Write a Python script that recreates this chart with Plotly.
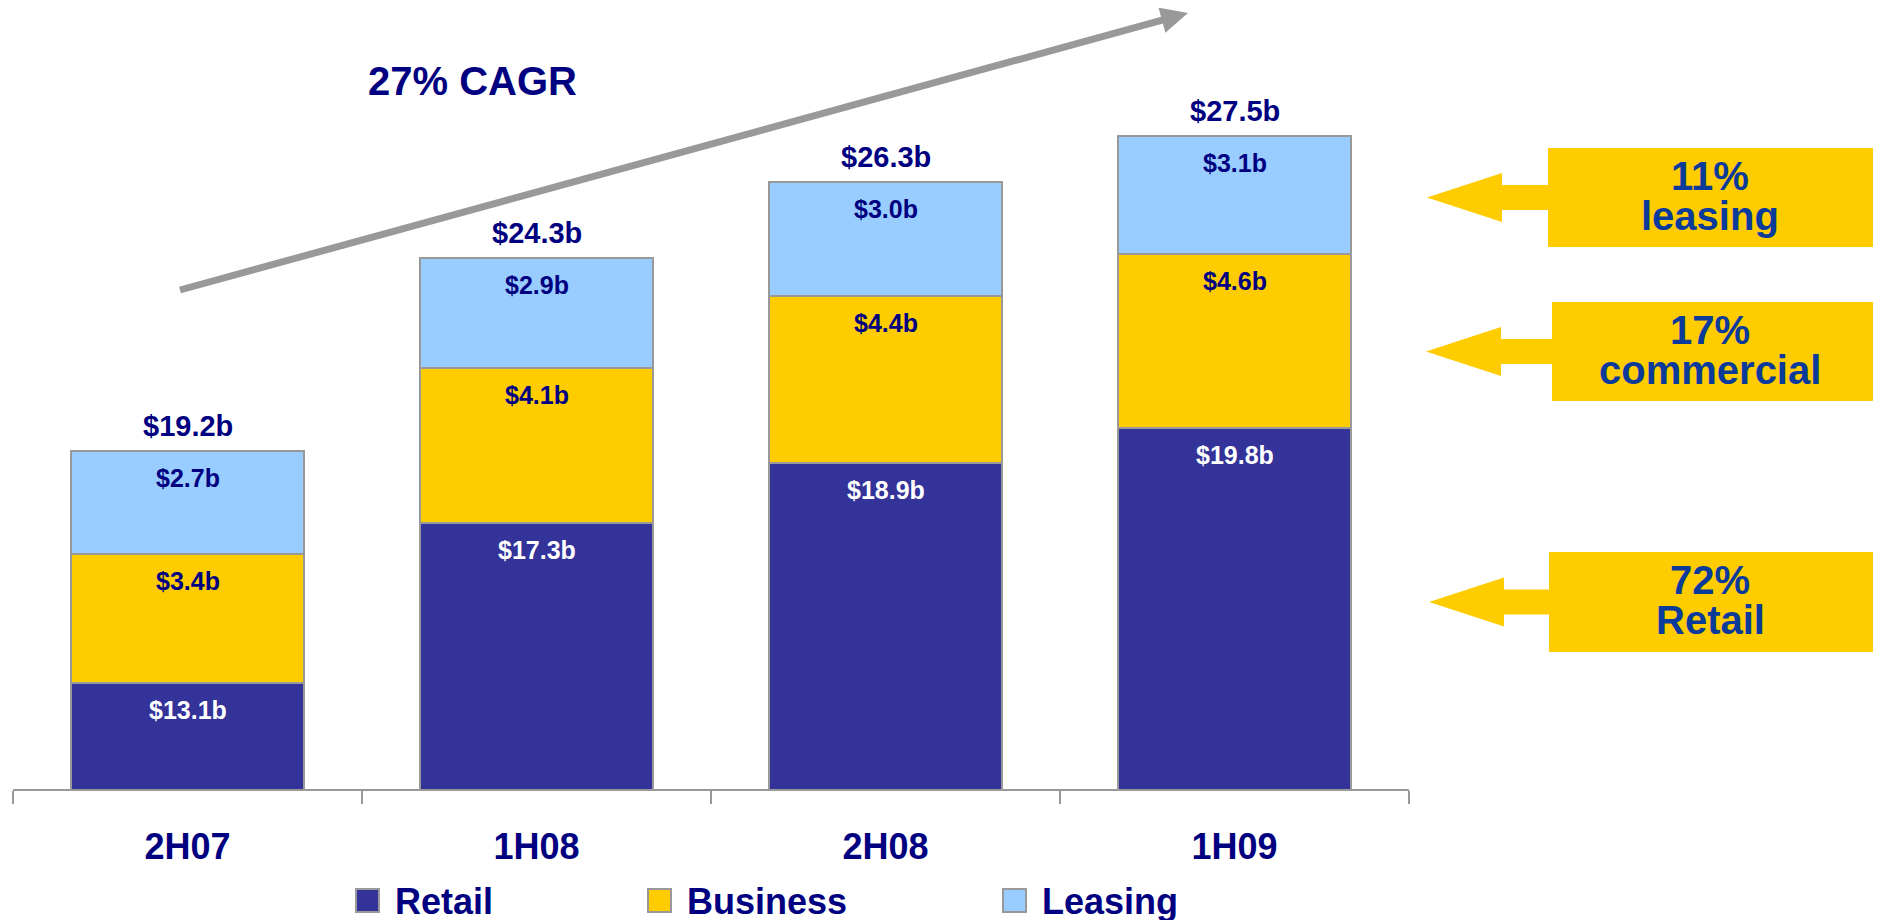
import math
import plotly.graph_objects as go

# ---------------- data ----------------
periods = ["2H07", "1H08", "2H08", "1H09"]
retail = [13.1, 17.3, 18.9, 19.8]
business = [3.4, 4.1, 4.4, 4.6]
leasing = [2.7, 2.9, 3.0, 3.1]
totals = [19.2, 24.3, 26.3, 27.5]
series_names = ["Retail", "Business", "Leasing"]
series_colors = ["#333399", "#FFCC00", "#99CCFF"]
label_colors = ["#FFFFFF", "#000080", "#000080"]
callout_pct = ["11%", "17%", "72%"]
callout_name = ["leasing", "commercial", "Retail"]
cagr_text = "27% CAGR"

NAVY = "#000080"
BLUE = "#0A3A9A"
YELLOW = "#FFCC00"
GRAY = "#999999"
FONT = "Arial, 'Liberation Sans', sans-serif"

OFF = 8  # page body margin
W, H = 1881 - OFF, 920 - OFF
ML, MR, MT, MB = 13 - OFF, 472, 0, 131
PW = W - ML - MR
PH = H - MT - MB
YMIN = 10.3
PX_PER_UNIT = 37.95
YMAX = YMIN + PH / PX_PER_UNIT


def px(x):
    return (x - OFF - ML) / PW


def py(y):
    return (H - MB - (y - OFF)) / PH


fig = go.Figure()
all_series = [retail, business, leasing]
for name, vals, col in zip(series_names, all_series, series_colors):
    fig.add_trace(go.Bar(
        x=periods, y=vals, name=name,
        marker=dict(color=col, line=dict(color=GRAY, width=2)),
        width=0.667, showlegend=False, hoverinfo="x+y+name",
    ))

annotations = []
# segment labels
cum = [0.0] * len(periods)
for vals, lc in zip(all_series, label_colors):
    for i, v in enumerate(vals):
        cum[i] += v
        annotations.append(dict(
            x=periods[i], y=cum[i], xref="x", yref="y", text=f"${v:.1f}b",
            showarrow=False, yshift=-27, yanchor="middle", xanchor="center",
            font=dict(family=FONT, size=25, color=lc, weight="bold"),
        ))
# total labels
for i, t in enumerate(totals):
    annotations.append(dict(
        x=periods[i], y=t, xref="x", yref="y", text=f"${t:.1f}b",
        showarrow=False, yshift=25, yanchor="middle", xanchor="center",
        font=dict(family=FONT, size=29, color=NAVY, weight="bold"),
    ))

# CAGR label
annotations.append(dict(
    x=px(472), y=py(81), xref="paper", yref="paper", text=cagr_text,
    showarrow=False, xanchor="center", yanchor="middle",
    font=dict(family=FONT, size=40, color=NAVY, weight="bold"),
))

shapes = []
# CAGR arrow
x0, y0 = 180, 290
tx, ty = 1188, 13
dx, dy = tx - x0, ty - y0
L = math.hypot(dx, dy)
ux, uy = dx / L, dy / L
nx, ny = -uy, ux
HL, HW = 27, 13
bx, by = tx - HL * ux, ty - HL * uy
shapes.append(dict(type="line", xref="paper", yref="paper",
                   x0=px(x0), y0=py(y0), x1=px(bx + 2 * ux), y1=py(by + 2 * uy),
                   line=dict(color=GRAY, width=7)))
c1 = (bx + HW * nx, by + HW * ny)
c2 = (bx - HW * nx, by - HW * ny)
shapes.append(dict(type="path", xref="paper", yref="paper",
                   path=f"M {px(tx)} {py(ty)} L {px(c1[0])} {py(c1[1])} L {px(c2[0])} {py(c2[1])} Z",
                   fillcolor=GRAY, line=dict(width=0)))

# callouts on the right
boxes = [(1548, 148, 1881, 247), (1552, 302, 1881, 401), (1549, 552, 1881, 652)]
tips = [1427, 1426, 1429]
for (bx0, by0, bx1, by1), tipx, pct, nm in zip(boxes, tips, callout_pct, callout_name):
    cy = (by0 + by1) / 2
    hb = tipx + 75
    pts = [(tipx, cy), (hb, cy - 24.5), (hb, cy - 12.5), (bx0 + 1, cy - 12.5),
           (bx0 + 1, cy + 12.5), (hb, cy + 12.5), (hb, cy + 24.5)]
    path = "M " + " L ".join(f"{px(a)} {py(b)}" for a, b in pts) + " Z"
    shapes.append(dict(type="path", xref="paper", yref="paper", path=path,
                       fillcolor=YELLOW, line=dict(width=0)))
    shapes.append(dict(type="rect", xref="paper", yref="paper",
                       x0=px(bx0), x1=px(bx1), y0=py(by0), y1=py(by1),
                       fillcolor=YELLOW, line=dict(width=0)))
    tcx = 1710
    annotations.append(dict(x=px(tcx), y=py(by0 + 28), xref="paper", yref="paper",
                            text=pct, showarrow=False, xanchor="center", yanchor="middle",
                            font=dict(family=FONT, size=40, color=BLUE, weight="bold")))
    annotations.append(dict(x=px(tcx), y=py(by0 + 68), xref="paper", yref="paper",
                            text=nm, showarrow=False, xanchor="center", yanchor="middle",
                            font=dict(family=FONT, size=40, color=BLUE, weight="bold")))

# manual legend
leg_sq_x = [356, 648, 1003]
for sx, name, col in zip(leg_sq_x, series_names, series_colors):
    shapes.append(dict(type="rect", xref="paper", yref="paper",
                       x0=px(sx), x1=px(sx + 23), y0=py(889), y1=py(912),
                       fillcolor=col, line=dict(color=GRAY, width=2)))
    annotations.append(dict(x=px(sx + 37), y=py(901), xref="paper", yref="paper",
                            text=name, showarrow=False, xanchor="left", yanchor="middle",
                            font=dict(family=FONT, size=36, color=NAVY, weight="bold")))

fig.update_layout(
    width=W, height=H, barmode="stack", bargap=0.333,
    margin=dict(l=ML, r=MR, t=MT, b=MB, pad=0),
    paper_bgcolor="white", plot_bgcolor="white",
    annotations=annotations, shapes=shapes, showlegend=False,
    xaxis=dict(
        type="category", range=[-0.5, 3.5], showline=True, linecolor=GRAY, linewidth=2,
        ticks="outside", tickson="boundaries", ticklen=13, tickcolor=GRAY, tickwidth=2,
        tickfont=dict(family=FONT, size=36, color=NAVY, weight="bold"),
        ticklabelstandoff=25, showgrid=False, zeroline=False,
    ),
    yaxis=dict(range=[YMIN, YMAX], visible=False, showgrid=False, zeroline=False),
)

fig.write_html("out.html")
